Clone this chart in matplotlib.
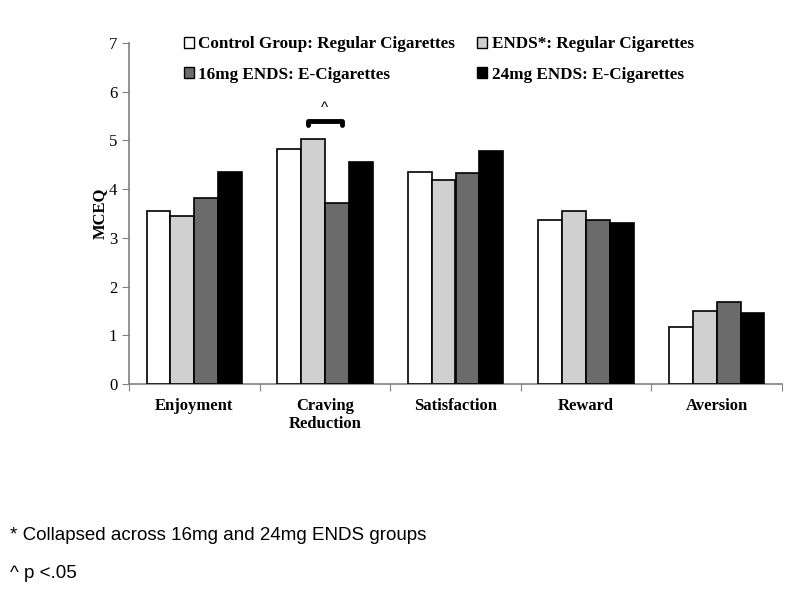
import numpy as np
import matplotlib
matplotlib.use("Agg")
import matplotlib.pyplot as plt
from matplotlib.patches import Patch

categories = ["Enjoyment", "Craving\nReduction", "Satisfaction", "Reward", "Aversion"]
series_names = [
    "Control Group: Regular Cigarettes",
    "ENDS*: Regular Cigarettes",
    "16mg ENDS: E-Cigarettes",
    "24mg ENDS: E-Cigarettes",
]
control = [3.56, 4.83, 4.35, 3.37, 1.16]
ends_regular = [3.44, 5.02, 4.19, 3.56, 1.50]
ends_16mg = [3.81, 3.71, 4.33, 3.37, 1.68]
ends_24mg = [4.36, 4.56, 4.79, 3.31, 1.45]
colors = ["#ffffff", "#d0d0d0", "#6b6b6b", "#000000"]

plt.rcParams['font.family'] = ['Liberation Serif', 'DejaVu Serif']

fig = plt.figure(figsize=(8, 6), dpi=100)
# axes box: x 129..782 px, y 43..384 px
ax = fig.add_axes([129 / 800, 1 - 384 / 600, 653 / 800, 341 / 600])

x = np.arange(len(categories))
width = 0.1825
all_series = [control, ends_regular, ends_16mg, ends_24mg]
for i, vals in enumerate(all_series):
    ax.bar(x + (i - 1.5) * width, vals, width, color=colors[i],
           edgecolor="black", linewidth=1.2, zorder=3)

ax.set_xlim(-0.5, len(categories) - 0.5)
ax.set_ylim(0, 7)
ax.set_yticks(range(8))
ax.tick_params(axis='y', labelsize=12, direction='out', length=5, color='#808080')
ax.set_xticks(np.arange(len(categories) + 1) - 0.5)
ax.set_xticklabels([])
ax.set_xticks(x, minor=True)
ax.set_xticklabels(categories, minor=True, fontsize=12, fontweight='bold')
ax.tick_params(axis='x', which='major', direction='out', length=5, color='#808080')
ax.tick_params(axis='x', which='minor', length=0, pad=10)
for s in ['top', 'right']:
    ax.spines[s].set_visible(False)
for s in ['left', 'bottom']:
    ax.spines[s].set_color('#808080')
    ax.spines[s].set_linewidth(1.2)
ax.set_ylabel("MCEQ", fontsize=12, fontweight='bold', labelpad=1)

# significance bracket between ENDS* and 16mg in Craving Reduction
x1 = x[1] - 0.5 * width
x2 = x[1] + 0.5 * width
yb = 5.4
ax.plot([x1 - 0.04, x1 - 0.04, x2 + 0.04, x2 + 0.04], [yb - 0.08, yb, yb, yb - 0.08],
        color='black', linewidth=3.5, solid_capstyle='round', solid_joinstyle='round', zorder=4)
ax.text(x[1], yb + 0.12, "^", ha='center', va='bottom', fontsize=11, family='Liberation Sans')

handles = [Patch(facecolor=c, edgecolor='black', linewidth=1.0) for c in colors]
order = [0, 2, 1, 3]
ax.legend([handles[i] for i in order], [series_names[i] for i in order],
          ncol=2, loc='upper left', bbox_to_anchor=(0.06, 1.065), frameon=False,
          prop={'weight': 'bold', 'size': 12.3}, handlelength=0.6, handleheight=0.6,
          handletextpad=0.25, columnspacing=1.3, labelspacing=0.85)

fig.text(0.012, 0.107, "* Collapsed across 16mg and 24mg ENDS groups",
         fontsize=13.5, family='Liberation Sans', va='center')
fig.text(0.012, 0.045, "^ p <.05", fontsize=13.5, family='Liberation Sans', va='center')

fig.savefig("out.png", dpi=100)
